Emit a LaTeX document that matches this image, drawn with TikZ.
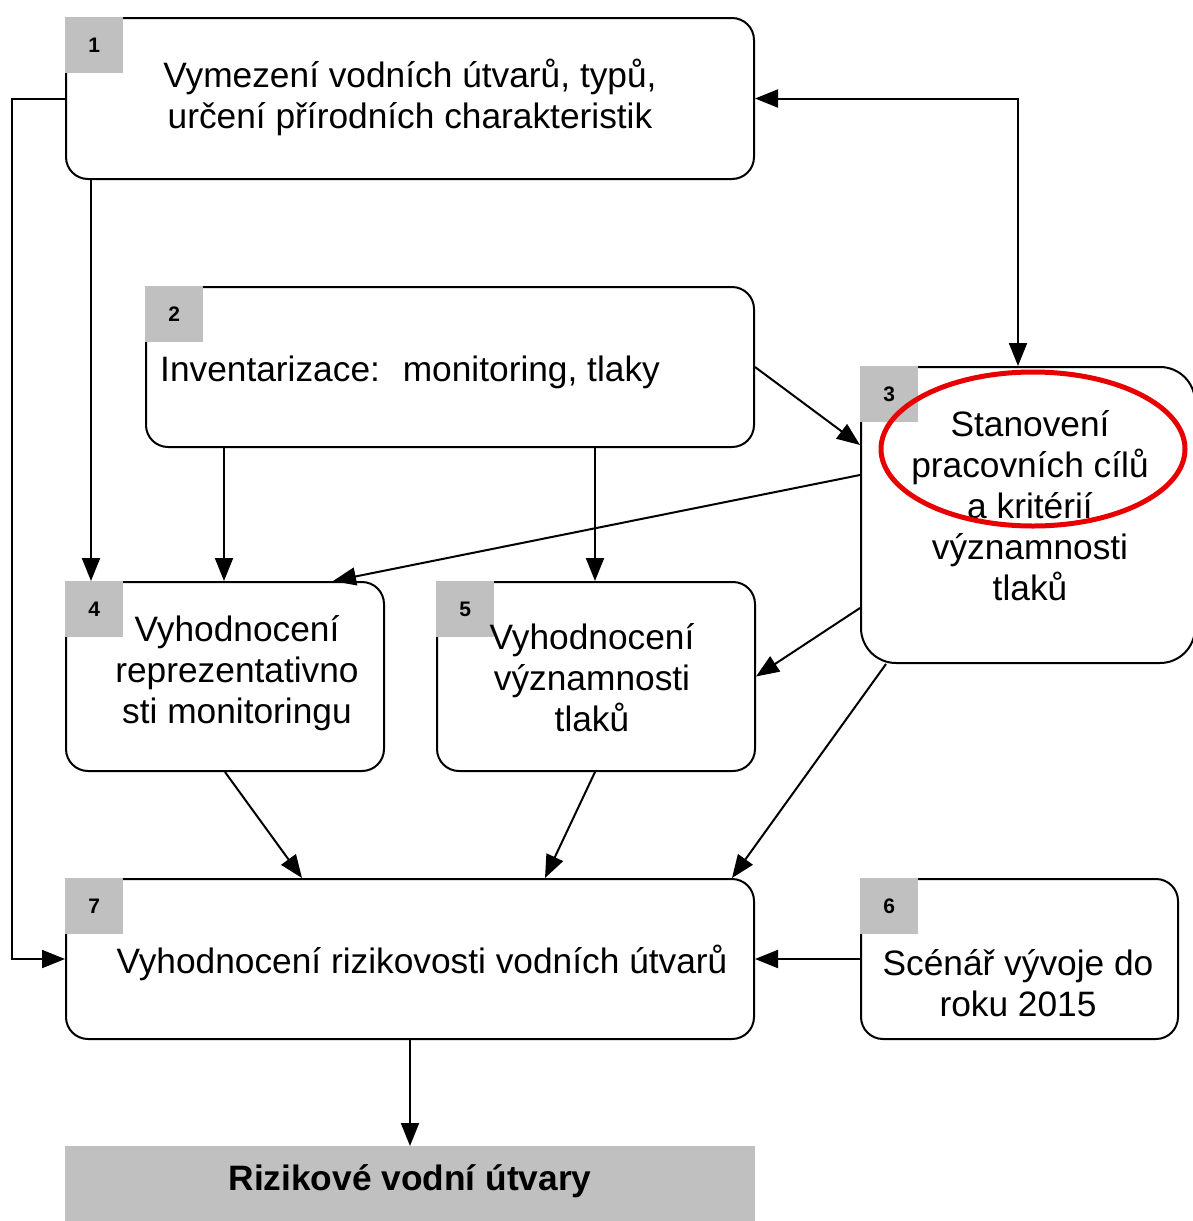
\documentclass[tikz,border=0pt]{standalone}
\usepackage{fontspec}
\setmainfont{Liberation Sans}
\usetikzlibrary{arrows.meta,calc}
\definecolor{numgray}{RGB}{192,192,192}
\definecolor{ringred}{RGB}{232,0,0}
\begin{document}
\begin{tikzpicture}[x=1pt,y=-1pt,
  box/.style={draw, line width=2pt, rounded corners=22pt, fill=white, anchor=north west, inner sep=0pt},
  numbox/.style={fill=numgray, anchor=north west, minimum width=58pt, minimum height=56pt, inner sep=0pt, font=\fontsize{21}{25}\selectfont\bfseries},
  txt/.style={font=\fontsize{35.3}{41}\selectfont, align=center, inner sep=0pt},
  arr/.style={line width=2pt, -{Triangle[length=23pt,width=18pt]}},
  darr/.style={line width=2pt, {Triangle[length=23pt,width=18pt]}-{Triangle[length=23pt,width=18pt]}}
]
\useasboundingbox (0,0) rectangle (1192,1221);
% boxes
\node[box, minimum width=688pt, minimum height=161pt] (b1) at (65,17) {};
\node[box, minimum width=608pt, minimum height=160pt] (b2) at (145,286) {};
\node[box, rounded corners=35pt, minimum width=334pt, minimum height=296pt] (b3) at (860,366) {};
\node[box, minimum width=318pt, minimum height=189pt] (b4) at (65,581) {};
\node[box, minimum width=318pt, minimum height=189pt] (b5) at (436,581) {};
\node[box, minimum width=317pt, minimum height=160pt] (b6) at (860,878) {};
\node[box, minimum width=688pt, minimum height=160pt] (b7) at (65,878) {};
\node[fill=numgray, anchor=north west, inner sep=0pt, minimum width=690pt, minimum height=77pt] (bf) at (65,1146) {};
% number squares
\node[numbox] (n1) at (65,17) {1};
\node[numbox] (n2) at (145,286) {2};
\node[numbox] (n3) at (860,366) {3};
\node[numbox] (n4) at (65,581) {4};
\node[numbox] (n5) at (436,581) {5};
\node[numbox] (n6) at (860,878) {6};
\node[numbox] (n7) at (65,878) {7};
% texts
\node[txt] (t1) at (410,97) {Vymezení vodních útvarů, typů,\\určení přírodních charakteristik};
\node[txt, anchor=west] (t2) at (160,372) {Inventarizace:~ monitoring, tlaky};
\node[txt] (t3) at (1030,506) {Stanovení\\pracovních cílů\\a kritérií\\významnosti\\tlaků};
\node[txt] (t4) at (237,673) {Vyhodnocení\\reprezentativno\\sti monitoringu};
\node[txt] (t5) at (592,678) {Vyhodnocení\\významnosti\\tlaků};
\node[txt] (t7) at (422,963) {Vyhodnocení rizikovosti vodních útvarů};
\node[txt] (t6) at (1018,983) {Scénář vývoje do\\roku 2015};
\node[txt, font=\fontsize{35.3}{41}\selectfont\bfseries] (tf) at (410,1181) {Rizikové vodní útvary};
% helper coordinates
\coordinate (cL) at (12,500);
\coordinate (c91) at (91,0);
\coordinate (c224) at (224,0);
\coordinate (c595) at (595,0);
\coordinate (c1018) at (1018,0);
% connectors
\draw[arr] (b1.west) -| (cL) |- (b7.west);
\draw[arr] (b1.south -| c91) -- (b4.north -| c91);
\draw[arr] (b2.south -| c224) -- (b4.north -| c224);
\draw[arr] (b2.south -| c595) -- (b5.north -| c595);
\draw[arr] (b2.east) -- ($(b3.north west)+(0,79)$);
\draw[arr] ($(b3.north west)+(0,109)$) -- ($(b4.north west)+(268,0)$);
\draw[arr] ($(b3.north west)+(0,242)$) -- (b5.east);
\draw[arr] ($(b3.south west)+(26,0)$) -- ($(b7.north east)+(-23,0)$);
\draw[arr] ($(b4.south west)+(160,0)$) -- ($(b7.north west)+(237,0)$);
\draw[arr] ($(b5.south west)+(159,0)$) -- ($(b7.north west)+(480,0)$);
\draw[arr] (b6.west) -- (b7.east);
\draw[arr] (b7.south) -- (b7.south |- bf.north);
\draw[darr] (b1.east) -| (b3.north -| c1018);
% red ring
\draw[ringred, line width=5pt] (1033,449) ellipse [x radius=152pt, y radius=77pt];
\end{tikzpicture}
\end{document}
